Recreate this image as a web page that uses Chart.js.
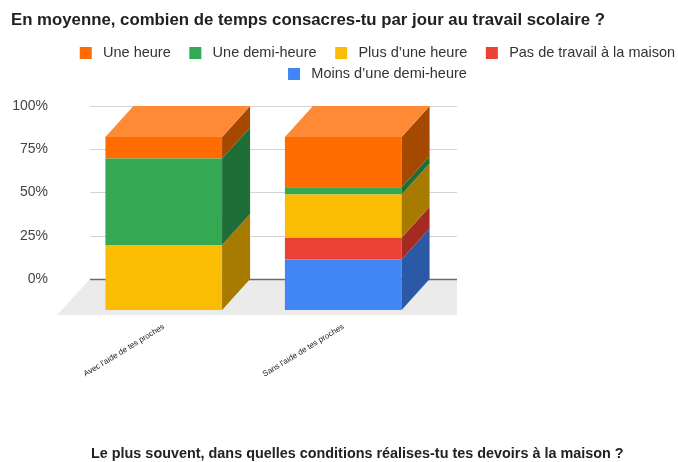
<!DOCTYPE html>
<html>
<head>
<meta charset="utf-8">
<script src="https://cdn.jsdelivr.net/npm/chart.js@4.4.1/dist/chart.umd.min.js"></script>
<style>
  body { margin: 0; background: #fff; }
  #wrap { position: relative; width: 678px; height: 462px; }
  #next {
    position: absolute; left: 91px; top: 444px;
    font: bold 14.4px 'Liberation Sans', Arial, sans-serif;
    color: #222; line-height: 18px; white-space: nowrap;
  }
</style>
</head>
<body>
<div id="wrap">
  <canvas id="chart" width="678" height="462"></canvas>
  <div id="next">Le plus souvent, dans quelles conditions réalises-tu tes devoirs à la maison ?</div>
</div>
<script>
// categories + series (stacked bottom -> top), values in %
const categories = ["Avec l'aide de tes proches", "Sans l'aide de tes proches"];
const moinsDemiHeure = [0, 29.2];
const pasDeTravail = [0, 12.5];
const plusUneHeure = [37.5, 25];
const uneDemiHeure = [50, 4.2];
const uneHeure = [12.5, 29.1];
const yTicks = [0, 25, 50, 75, 100];

const seriesNames = ['Moins d’une demi-heure', 'Pas de travail à la maison', 'Plus d’une heure', 'Une demi-heure', 'Une heure'];
const seriesValues = [moinsDemiHeure, pasDeTravail, plusUneHeure, uneDemiHeure, uneHeure];
const frontColors = ['#4285F4', '#EA4335', '#FBBC04', '#34A853', '#FF6D01'];
const sideColors = ['#2C59A5', '#A52B22', '#A67B00', '#1F6E37', '#A64900'];
const topColors = ['#6A9EF6', '#EF6A5E', '#FCCB3C', '#5CBB76', '#FF8A36'];

const DX = 28, DY = 31;

Chart.defaults.font.family = "'Liberation Sans', Arial, sans-serif";

const box3d = {
  id: 'box3d',
  afterLayout(chart) {
    // legend is centred a bit right of the canvas middle
    chart.legend.left += 39;
    chart.legend.right += 39;
  },
  beforeDatasetsDraw(chart) {
    const { ctx, chartArea: a, scales: { y } } = chart;
    const back0 = y.getPixelForValue(0) - DY;
    ctx.save();
    ctx.fillStyle = '#ebebeb';
    ctx.beginPath();
    ctx.moveTo(a.left - 17, a.bottom + 5);
    ctx.lineTo(a.left + 16, back0);
    ctx.lineTo(a.right + 24, back0);
    ctx.lineTo(a.right + 24, a.bottom + 5);
    ctx.closePath();
    ctx.fill();
    yTicks.forEach(v => {
      const py = Math.round(y.getPixelForValue(v) - DY) + 0.5;
      ctx.strokeStyle = v === 0 ? '#6b6b6b' : '#d4d4d4';
      ctx.lineWidth = v === 0 ? 1.5 : 1;
      ctx.beginPath();
      ctx.moveTo(a.left + 16, py);
      ctx.lineTo(a.right + 24, py);
      ctx.stroke();
    });
    ctx.restore();
  },
  afterDatasetsDraw(chart) {
    const ctx = chart.ctx;
    ctx.save();
    chart.data.labels.forEach((_, i) => {
      let last = null, lastDs = -1;
      chart.data.datasets.forEach((ds, d) => {
        if (!ds.data[i]) return;
        const bar = chart.getDatasetMeta(d).data[i];
        const { x, y, base, width } = bar.getProps(['x', 'y', 'base', 'width'], true);
        const r = x + width / 2;
        ctx.fillStyle = sideColors[d];
        ctx.beginPath();
        ctx.moveTo(r, base);
        ctx.lineTo(r, y);
        ctx.lineTo(r + DX, y - DY);
        ctx.lineTo(r + DX, base - DY);
        ctx.closePath();
        ctx.fill();
        last = { x, y, width };
        lastDs = d;
      });
      if (last) {
        const l = last.x - last.width / 2, r = last.x + last.width / 2;
        ctx.fillStyle = topColors[lastDs];
        ctx.beginPath();
        ctx.moveTo(l, last.y);
        ctx.lineTo(l + DX, last.y - DY);
        ctx.lineTo(r + DX, last.y - DY);
        ctx.lineTo(r, last.y);
        ctx.closePath();
        ctx.fill();
      }
    });
    ctx.restore();
  }
};

new Chart(document.getElementById('chart'), {
  type: 'bar',
  data: {
    labels: categories,
    datasets: seriesNames.map((name, k) => ({
      label: name,
      data: seriesValues[k],
      backgroundColor: frontColors[k],
      borderWidth: 0,
      barPercentage: 0.65,
      categoryPercentage: 1
    }))
  },
  options: {
    responsive: false,
    animation: false,
    devicePixelRatio: 1,
    layout: { padding: { left: 11, right: 0, top: 0, bottom: 0 } },
    plugins: {
      title: {
        display: true,
        text: 'En moyenne, combien de temps consacres-tu par jour au travail scolaire ?',
        align: 'start',
        color: '#212121',
        font: { size: 16.8, weight: 'bold' },
        padding: { top: 10.6, bottom: 8.5 }
      },
      legend: {
        reverse: true,
        labels: {
          boxWidth: 12,
          boxHeight: 12,
          padding: 6.5,
          color: '#333',
          font: { size: 14.5 },
          generateLabels(chart) {
            const items = Chart.defaults.plugins.legend.labels.generateLabels(chart);
            items.forEach(it => { it.text = ' ' + it.text + '   '; });
            return items;
          }
        }
      },
      tooltip: { enabled: false }
    },
    scales: {
      x: {
        stacked: true,
        grid: { display: false, drawTicks: false },
        border: { display: false },
        ticks: {
          autoSkip: false,
          minRotation: 31.5,
          maxRotation: 31.5,
          padding: 12,
          color: '#222',
          font: { size: 8 }
        },
        afterFit(s) { s.height = 152; }
      },
      y: {
        stacked: true,
        min: 0,
        max: 100,
        grid: { display: false, drawTicks: false },
        border: { display: false },
        ticks: {
          stepSize: 25,
          padding: 26,
          labelOffset: -DY,
          color: '#444',
          font: { size: 14 },
          callback: v => v + '%'
        },
        afterFit(s) { s.width = 63; }
      },
      xTop: {
        type: 'category',
        position: 'top',
        grid: { display: false, drawTicks: false },
        border: { display: false },
        ticks: { display: false },
        afterFit(s) { s.height = 45.7; }
      },
      yRight: {
        type: 'linear',
        position: 'right',
        grid: { display: false, drawTicks: false },
        border: { display: false },
        ticks: { display: false },
        afterFit(s) { s.width = 245; }
      }
    }
  },
  plugins: [box3d]
});
</script>
</body>
</html>
